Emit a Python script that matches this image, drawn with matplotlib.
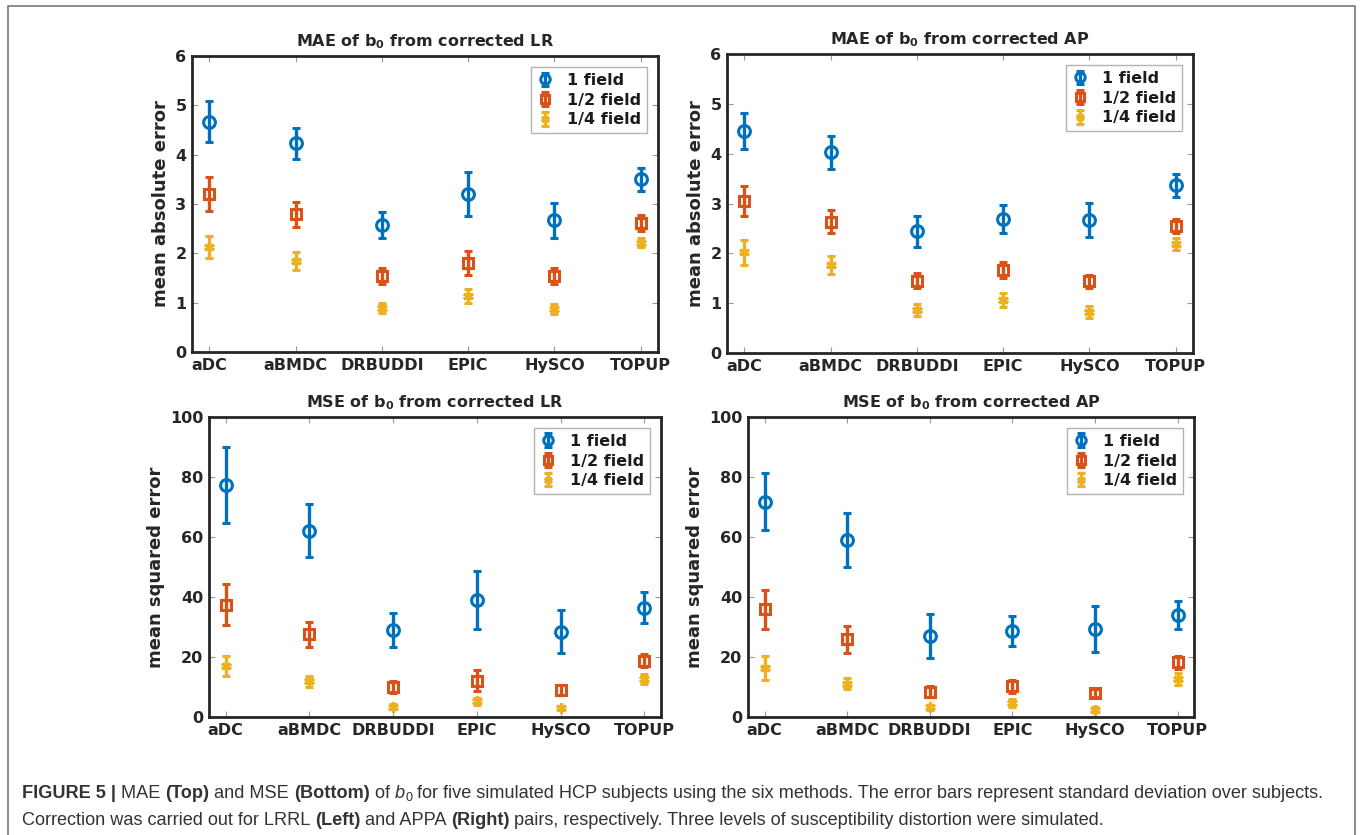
import matplotlib
matplotlib.use("Agg")
import matplotlib.pyplot as plt
from matplotlib.lines import Line2D
from matplotlib.container import ErrorbarContainer
from matplotlib.legend_handler import HandlerErrorbar
import numpy as np

METHODS = ["aDC", "aBMDC", "DRBUDDI", "EPIC", "HySCO", "TOPUP"]
LEVELS = ["1 field", "1/2 field", "1/4 field"]

# rows: 1 field, 1/2 field, 1/4 field
mae_lr_mean = [[4.67, 4.23, 2.57, 3.20, 2.67, 3.50],
               [3.20, 2.79, 1.54, 1.81, 1.54, 2.62],
               [2.13, 1.84, 0.90, 1.13, 0.88, 2.22]]
mae_lr_sd = [[0.42, 0.32, 0.26, 0.44, 0.35, 0.24],
             [0.34, 0.25, 0.17, 0.24, 0.17, 0.16],
             [0.23, 0.18, 0.10, 0.14, 0.10, 0.10]]

mae_ap_mean = [[4.46, 4.03, 2.44, 2.69, 2.67, 3.37],
               [3.05, 2.64, 1.45, 1.66, 1.44, 2.55],
               [2.02, 1.76, 0.87, 1.06, 0.82, 2.19]]
mae_ap_sd = [[0.36, 0.33, 0.31, 0.29, 0.35, 0.23],
             [0.30, 0.23, 0.15, 0.16, 0.13, 0.14],
             [0.25, 0.18, 0.12, 0.14, 0.12, 0.12]]

mse_lr_mean = [[77.3, 62.1, 29.0, 39.0, 28.5, 36.5],
               [37.4, 27.6, 9.9, 12.1, 9.1, 18.8],
               [17.1, 11.9, 3.5, 5.2, 3.0, 12.6]]
mse_lr_sd = [[12.7, 8.8, 5.7, 9.8, 7.2, 5.1],
             [6.8, 4.2, 2.0, 3.5, 1.7, 2.2],
             [3.3, 1.9, 0.8, 1.1, 0.8, 1.6]]

mse_ap_mean = [[71.7, 59.0, 27.1, 28.7, 29.4, 34.0],
               [35.9, 25.9, 8.5, 10.2, 8.0, 18.2],
               [16.3, 11.1, 3.2, 4.7, 2.4, 12.7]]
mse_ap_sd = [[9.5, 9.0, 7.4, 5.0, 7.7, 4.8],
             [6.4, 4.4, 1.7, 2.1, 1.3, 2.2],
             [4.0, 1.8, 0.9, 1.2, 0.8, 1.9]]

COLORS = ["#0072BD", "#D95319", "#EDB120"]
MARKERS = ["o", "s", (6, 2, 0)]
MSIZES = [8.5, 7, 7.5]

CAP_FONT = ["Liberation Sans", "DejaVu Sans"]

plt.rcParams["font.family"] = "DejaVu Sans"
plt.rcParams["font.weight"] = "bold"
plt.rcParams["mathtext.default"] = "bf"


def plot_panel(fig, rect, title, ylabel, means, sds, ylim, yticks):
    ax = fig.add_axes(rect)
    x = np.arange(1, len(METHODS) + 1)
    for i, label in enumerate(LEVELS):
        ax.errorbar(x, means[i], yerr=sds[i], marker=MARKERS[i], ms=MSIZES[i],
                    mfc="none", mec=COLORS[i], mew=2.2, linestyle="none",
                    color=COLORS[i], elinewidth=2.4, capsize=3, capthick=2.4,
                    label=label)
    ax.set_xlim(0.8, 6.2)
    ax.set_ylim(ylim)
    ax.set_xticks(x)
    ax.set_xticklabels(METHODS)
    ax.set_yticks(yticks)
    ax.tick_params(direction="in", top=True, right=True, length=4, width=0.8,
                   color="#999999", labelcolor="#262626", labelsize=11.5, pad=4)
    for lbl in ax.get_xticklabels() + ax.get_yticklabels():
        lbl.set_fontweight("bold")
    for sp in ax.spines.values():
        sp.set_linewidth(2)
        sp.set_color("#262626")
    ax.set_title(title, fontsize=11.5, fontweight="bold", color="#262626", pad=7)
    ax.set_ylabel(ylabel, fontsize=13, fontweight="bold", color="#262626", labelpad=4)
    leg = ax.legend(loc="upper right", frameon=True, fancybox=False,
                    edgecolor="#a0a0a0", borderaxespad=0.7, handlelength=1.0,
                    handletextpad=0.9, labelspacing=0.3, borderpad=0.35,
                    markerscale=0.8, prop={"weight": "bold", "size": 11.5},
                    handler_map={ErrorbarContainer: HandlerErrorbar(xerr_size=0.4, yerr_size=0.42)})
    leg.get_frame().set_linewidth(1.0)
    for t in leg.get_texts():
        t.set_color("#1a1a1a")
    return ax


def draw_runs(fig, x_px, y_px, runs, size, color):
    # place text pieces one after another along a baseline (pixel coords)
    r = fig.canvas.get_renderer()
    W, H = fig.bbox.width, fig.bbox.height

    def width(s, weight, style, fs):
        t = fig.text(0, 0, s, fontsize=fs, family=CAP_FONT, fontweight=weight,
                     fontstyle=style)
        w = t.get_window_extent(r).width
        t.remove()
        return w

    x = x_px
    for txt, weight, style, dy, scale in runs:
        fs = size * scale
        fig.text(x / W, (H - y_px - dy) / H, txt, fontsize=fs, family=CAP_FONT,
                 fontweight=weight, fontstyle=style, color=color,
                 va="baseline", ha="left")
        x += width("." + txt + ".", weight, style, fs) - width("..", weight, style, fs)


fig = plt.figure(figsize=(13.6, 8.35), dpi=100)

plot_panel(fig, [0.1412, 0.5784, 0.3426, 0.3545], "MAE of b$_0$ from corrected LR",
           "mean absolute error", mae_lr_mean, mae_lr_sd, (0, 6), range(0, 7))
plot_panel(fig, [0.5346, 0.5772, 0.3426, 0.3580], "MAE of b$_0$ from corrected AP",
           "mean absolute error", mae_ap_mean, mae_ap_sd, (0, 6), range(0, 7))
plot_panel(fig, [0.1537, 0.1413, 0.3324, 0.3593], "MSE of b$_0$ from corrected LR",
           "mean squared error", mse_lr_mean, mse_lr_sd, (0, 100), range(0, 101, 20))
plot_panel(fig, [0.5500, 0.1413, 0.3280, 0.3593], "MSE of b$_0$ from corrected AP",
           "mean squared error", mse_ap_mean, mse_ap_sd, (0, 100), range(0, 101, 20))

# outer frame (open at the bottom)
W, H = 1360.0, 835.0
frame_x = [8 / W, 8 / W, 1355 / W, 1355 / W]
frame_y = [0.0, 1 - 6 / H, 1 - 6 / H, 0.0]
fig.add_artist(Line2D(frame_x, frame_y, transform=fig.transFigure,
                      color="#777777", lw=1.2))

line1 = [("FIGURE 5 | ", "bold", "normal", 0, 1.0),
         ("MAE ", "normal", "normal", 0, 1.0),
         ("(Top)", "bold", "normal", 0, 1.0),
         (" and MSE ", "normal", "normal", 0, 1.0),
         ("(Bottom)", "bold", "normal", 0, 1.0),
         (" of ", "normal", "normal", 0, 1.0),
         ("b", "normal", "italic", 0, 1.0),
         ("0", "normal", "normal", 3, 0.7),
         (" for five simulated HCP subjects using the six methods. The error bars "
          "represent standard deviation over subjects.", "normal", "normal", 0, 1.0)]
line2 = [("Correction was carried out for LRRL ", "normal", "normal", 0, 1.0),
         ("(Left)", "bold", "normal", 0, 1.0),
         (" and APPA ", "normal", "normal", 0, 1.0),
         ("(Right)", "bold", "normal", 0, 1.0),
         (" pairs, respectively. Three levels of susceptibility distortion were "
          "simulated.", "normal", "normal", 0, 1.0)]

draw_runs(fig, 22, 798, line1, 13.05, "#333333")
draw_runs(fig, 22, 825, line2, 13.05, "#333333")

fig.savefig("out.png", dpi=100)
